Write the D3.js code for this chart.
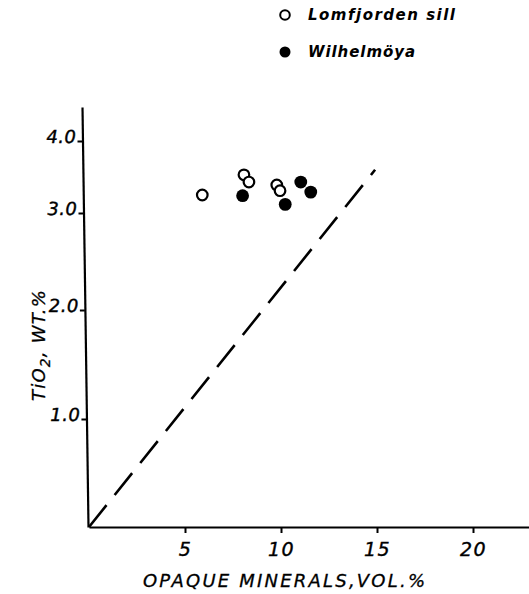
<!DOCTYPE html>
<html>
<head>
<meta charset="utf-8">
<script src="https://cdn.jsdelivr.net/npm/d3@7"></script>
<style>
  html, body { margin: 0; padding: 0; background: #fff; }
  svg { display: block; }
</style>
</head>
<body>
<svg id="chart" width="529" height="594"></svg>
<script>
// ---- data ----
const lomfjordenX = [5.9, 8.07, 8.33, 9.78, 9.95];
const lomfjordenY = [3.25, 3.53, 3.43, 3.39, 3.31];
const wilhelmoyaX = [8.0, 10.22, 11.03, 11.55];
const wilhelmoyaY = [3.24, 3.12, 3.43, 3.29];
const refLineX = [0, 14.9];
const refLineY = [0, 3.6];
const xTicks = [5, 10, 15, 20];
const yTicks = [1.0, 2.0, 3.0, 4.0];
const seriesNames = ["Lomfjorden sill", "Wilhelmöya"];
const xTitle = "OPAQUE MINERALS,VOL.%";

// ---- layout ----
const svg = d3.select("#chart");
const W = 529, H = 594;
svg.append("rect").attr("width", W).attr("height", H).attr("fill", "#fff");

const x = d3.scaleLinear().domain([0, 23]).range([89, 89 + 23 * 19.2]);
// the scanned original's y axis is unevenly ruled; a piecewise scale follows it
const y = d3.scaleLinear().domain([0, 1, 2, 3, 4, 4.47]).range([527, 419, 310, 213, 141, 107]);

const font = "'DejaVu Sans', sans-serif";

// x axis
const gx = svg.append("g").attr("transform", `translate(0,${y(0)})`)
  .call(d3.axisBottom(x).tickValues(xTicks).tickSize(6).tickSizeOuter(0).tickFormat(d => d));
gx.select(".domain").attr("stroke", "#000").attr("stroke-width", 2.2);
gx.selectAll(".tick line").attr("stroke", "#000").attr("stroke-width", 2);
gx.selectAll(".tick text")
  .attr("y", 16)
  .attr("font-family", font).attr("font-style", "oblique")
  .attr("font-size", 19).attr("fill", "#000").attr("letter-spacing", 1.5)
  .attr("stroke", "#000").attr("stroke-width", 0.4);

// y axis (slightly slanted like the scanned original)
const t = 6 / 420;
const ang = Math.atan(t) * 180 / Math.PI;
const gy = svg.append("g").attr("transform", `translate(${88 - y(0) * t},0) skewX(${ang})`)
  .call(d3.axisLeft(y).tickValues(yTicks).tickSize(5).tickSizeOuter(0).tickFormat(d3.format(".1f")));
gy.select(".domain").attr("stroke", "#000").attr("stroke-width", 2.2);
gy.selectAll(".tick line").attr("stroke", "#000").attr("stroke-width", 2);
gy.selectAll(".tick text")
  .attr("x", -6).attr("dy", "0.1em")
  .attr("font-family", font).attr("font-style", "oblique")
  .attr("font-size", 18).attr("fill", "#000").attr("letter-spacing", 0.5)
  .attr("stroke", "#000").attr("stroke-width", 0.4);

// reference dashed line
const refData = refLineX.map((d, i) => [d, refLineY[i]]);
svg.append("path")
  .attr("d", d3.line().x(d => x(d[0])).y(d => y(d[1]))(refData))
  .attr("fill", "none").attr("stroke", "#000").attr("stroke-width", 2.6)
  .attr("stroke-dasharray", "28,13");

// points
const lom = lomfjordenX.map((d, i) => [d, lomfjordenY[i]]);
const wil = wilhelmoyaX.map((d, i) => [d, wilhelmoyaY[i]]);
svg.append("g").selectAll("circle").data(lom).join("circle")
  .attr("cx", d => x(d[0])).attr("cy", d => y(d[1])).attr("r", 5.3)
  .attr("fill", "#fff").attr("stroke", "#000").attr("stroke-width", 2.2);
svg.append("g").selectAll("circle").data(wil).join("circle")
  .attr("cx", d => x(d[0])).attr("cy", d => y(d[1])).attr("r", 6.4)
  .attr("fill", "#000");

// legend
const leg = svg.append("g");
leg.append("circle").attr("cx", 285).attr("cy", 15).attr("r", 4.8)
  .attr("fill", "#fff").attr("stroke", "#000").attr("stroke-width", 2);
leg.append("circle").attr("cx", 285).attr("cy", 52).attr("r", 5.5).attr("fill", "#000");
leg.append("text").attr("x", 308).attr("y", 20).text(seriesNames[0])
  .attr("font-family", font).attr("font-style", "oblique").attr("font-weight", "bold")
  .attr("font-size", 15).attr("textLength", 147).attr("lengthAdjust", "spacing");
leg.append("text").attr("x", 308).attr("y", 57).text(seriesNames[1])
  .attr("font-family", font).attr("font-style", "oblique").attr("font-weight", "bold")
  .attr("font-size", 15).attr("textLength", 107).attr("lengthAdjust", "spacing");

// axis titles
svg.append("text").attr("x", 143).attr("y", 587).text(xTitle)
  .attr("font-family", font).attr("font-style", "oblique")
  .attr("font-size", 18).attr("textLength", 282).attr("lengthAdjust", "spacing")
  .attr("stroke", "#000").attr("stroke-width", 0.3);

const yt = svg.append("text").attr("transform", "translate(45,345) rotate(-90)")
  .attr("text-anchor", "middle")
  .attr("font-family", font).attr("font-style", "oblique").attr("font-size", 18)
  .attr("letter-spacing", 1.2)
  .attr("stroke", "#000").attr("stroke-width", 0.3);
yt.append("tspan").text("TiO");
yt.append("tspan").attr("dy", 5).attr("font-size", 14).text("2");
yt.append("tspan").attr("dy", -5).text(", WT.%");
</script>
</body>
</html>
